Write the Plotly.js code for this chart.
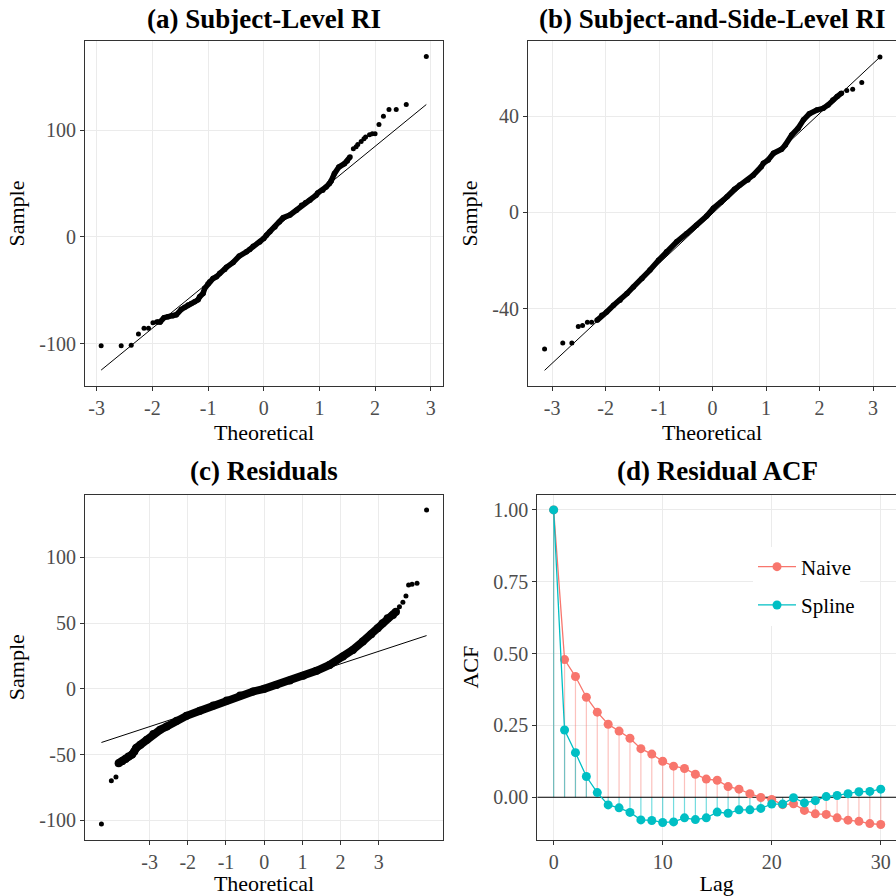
<!DOCTYPE html>
<html><head><meta charset="utf-8">
<script src="https://cdn.plot.ly/plotly-3.0.1.min.js"></script>
<style>html,body{margin:0;padding:0;background:#fff}#chart{width:896px;height:896px}</style>
</head><body><div id="chart"></div>
<script>
// ---------- Panel (a) Subject-Level RI ----------
const aBodyX = [-1.92,-1.86,-1.79,-1.72,-1.63,-1.57,-1.48,-1.42,-1.36,-1.30,-1.24,-1.18,-1.15,-1.09,-1.06,-1.00,-0.97,-0.91,-0.85,-0.79,-0.70,-0.67,-0.55,-0.44,-0.31,-0.25,-0.19,-0.07,0.00,0.05,0.11,0.20,0.28,0.35,0.47,0.59,0.68,0.75,0.83,0.94,0.97,1.06,1.12,1.18,1.21,1.27,1.35,1.45,1.50,1.55];
const aBodyY = [-79.7,-79.7,-75.7,-74.8,-74,-73,-67.9,-66,-63.8,-62.5,-60.7,-59,-56,-53,-48.2,-44,-42,-39,-37.4,-34,-30.5,-28.5,-24,-18,-14,-11.8,-8.75,-4.7,-1.5,1.6,4.7,9.3,14,18,20.5,25,29.6,32,34.3,39,41.1,43.75,46.7,50,52.3,59.3,65.4,68.6,71,74.8];
const aTailX = [-2.92,-2.56,-2.38,-2.25,-2.15,-2.07,-1.99,1.61,1.66,1.69,1.75,1.80,1.83,1.90,1.95,2.00,2.07,2.15,2.25,2.38,2.56,2.92];
const aTailY = [-102,-102,-101.5,-91,-85.6,-85.6,-80.4,82.6,84.5,86.6,89.4,92,93.5,95.7,96.5,96.6,105.3,113,119.3,119.3,124,168.9];
const aLine = {slope: 42.6, intercept: -0.4};
const aXTicks = [-3,-2,-1,0,1,2,3], aXLabels = ['-3','-2','-1','0','1','2','3'];
const aYTicks = [-100,0,100], aYLabels = ['-100','0','100'];

// ---------- Panel (b) Subject-and-Side-Level RI ----------
const bBodyX = [-2.16,-2.07,-1.98,-1.85,-1.73,-1.60,-1.48,-1.32,-1.17,-1.01,-0.86,-0.67,-0.48,-0.30,-0.11,0.015,0.16,0.27,0.41,0.51,0.66,0.76,0.91,0.95,1.04,1.14,1.29,1.36,1.48,1.60,1.70,1.81,1.95,2.07,2.16,2.25,2.33,2.41];
const bBodyY = [-44.9,-42.8,-41.4,-38.6,-36.5,-33.75,-31,-27.5,-24,-19.9,-16.4,-12.25,-8.75,-5.3,-1.5,1.7,4.2,6.5,9.6,11.4,13.5,15.5,19,20.4,21.8,24.6,26.25,28,32.2,35,38.5,41,42.6,43.3,44.7,46.8,48.2,49.6];
const bTailX = [-3.14,-2.80,-2.63,-2.51,-2.43,-2.34,-2.26,2.51,2.62,2.79,3.13];
const bTailY = [-56.8,-54.3,-54.3,-47.4,-47,-45.7,-45.7,50.7,51.25,54,64.6];
const bLine = {slope: 20.78, intercept: -0.44};
const bXTicks = [-3,-2,-1,0,1,2,3], bXLabels = ['-3','-2','-1','0','1','2','3'];
const bYTicks = [-40,0,40], bYLabels = ['-40','0','40'];

// ---------- Panel (c) Residuals ----------
const cBodyX = [-3.81,-3.72,-3.63,-3.55,-3.46,-3.40,-3.35,-3.24,-3.07,-2.90,-2.72,-2.55,-2.29,-2.03,-1.68,-1.33,-0.98,-0.63,-0.29,0,0.32,0.67,1.02,1.37,1.71,2.06,2.32,2.58,2.80,2.97,3.10,3.23,3.37,3.45];
const cBodyY = [-56.5,-55,-53.4,-51.4,-50,-47.6,-45,-42.5,-38.7,-34.4,-31.1,-28.6,-24.3,-20.5,-16.7,-12.7,-8.9,-5.1,-2,0,3,6.3,9.9,13.7,18.2,24.6,29.6,36,41.5,46,49.9,53.7,56.2,58.7];
const cTailX = [-4.26,-4.00,-3.88,3.54,3.63,3.71,3.78,3.87,4.00,4.25];
const cTailY = [-102.8,-69.9,-67,62.5,65.8,70.6,79,79.5,80.3,136];
const cLine = {slope: 9.55, intercept: -0.1};
const cXTicks = [-3,-2,-1,0,1,2,3], cXLabels = ['-3','-2','-1','0','1','2','3'];
const cYTicks = [-100,-50,0,50,100], cYLabels = ['-100','-50','0','50','100'];

// ---------- Panel (d) Residual ACF ----------
const lags = [0,1,2,3,4,5,6,7,8,9,10,11,12,13,14,15,16,17,18,19,20,21,22,23,24,25,26,27,28,29,30];
const acfNaive = [1.0,0.479,0.42,0.348,0.296,0.254,0.230,0.205,0.169,0.150,0.125,0.108,0.100,0.080,0.063,0.059,0.037,0.028,0.012,-0.001,-0.008,-0.026,-0.023,-0.046,-0.058,-0.060,-0.072,-0.080,-0.084,-0.092,-0.095];
const acfSpline = [1.0,0.234,0.155,0.072,0.016,-0.027,-0.037,-0.053,-0.079,-0.081,-0.088,-0.086,-0.072,-0.078,-0.072,-0.052,-0.056,-0.044,-0.044,-0.039,-0.024,-0.024,-0.002,-0.020,-0.012,0.002,0.006,0.012,0.019,0.020,0.028];
const dXTicks = [0,10,20,30], dXLabels = ['0','10','20','30'];
const dYTicks = [0,0.25,0.5,0.75,1.0], dYLabels = ['0.00','0.25','0.50','0.75','1.00'];
const seriesNames = ['Naive','Spline'];
const panelTitles = ['(a) Subject-Level RI','(b) Subject-and-Side-Level RI','(c) Residuals','(d) Residual ACF'];
const zeroLevel = 0;

// ---------- build ----------
const F = 'Liberation Serif, Times New Roman, serif';
const RED = '#F8766D', TEAL = '#00BFC4';
const dXRange = [-1.5, 31.4];

function qqTraces(bx, by, tx, ty, line, xa, ya, w) {
  const allX = bx.concat(tx);
  const x0 = Math.min(...allX), x1 = Math.max(...allX);
  return [
    {x: bx, y: by, xaxis: xa, yaxis: ya, type: 'scatter', mode: 'lines+markers',
     line: {color: '#000', width: w}, marker: {color: '#000', size: w}, showlegend: false, hoverinfo: 'skip'},
    {x: tx, y: ty, xaxis: xa, yaxis: ya, type: 'scatter', mode: 'markers',
     marker: {color: '#000', size: 5}, showlegend: false, hoverinfo: 'skip'},
    {x: [x0, x1], y: [line.intercept + line.slope * x0, line.intercept + line.slope * x1],
     xaxis: xa, yaxis: ya, type: 'scatter', mode: 'lines', line: {color: '#000', width: 1},
     showlegend: false, hoverinfo: 'skip'}
  ];
}

function segs(vals) {
  const x = [], y = [];
  lags.forEach((l, i) => { x.push(l, l, null); y.push(zeroLevel, vals[i], null); });
  return {x, y};
}
const sN = segs(acfNaive), sS = segs(acfSpline);

const traces = [].concat(
  qqTraces(aBodyX, aBodyY, aTailX, aTailY, aLine, 'x', 'y', 5.5),
  qqTraces(bBodyX, bBodyY, bTailX, bTailY, bLine, 'x2', 'y2', 5.5),
  qqTraces(cBodyX, cBodyY, cTailX, cTailY, cLine, 'x3', 'y3', 8),
  [
    {x: sN.x, y: sN.y, xaxis: 'x4', yaxis: 'y4', type: 'scatter', mode: 'lines',
     line: {color: 'rgba(248,118,109,0.45)', width: 1.2}, showlegend: false, hoverinfo: 'skip'},
    {x: sS.x, y: sS.y, xaxis: 'x4', yaxis: 'y4', type: 'scatter', mode: 'lines',
     line: {color: 'rgba(0,191,196,0.55)', width: 1.2}, showlegend: false, hoverinfo: 'skip'},
    {x: dXRange, y: [zeroLevel, zeroLevel], xaxis: 'x4', yaxis: 'y4', type: 'scatter', mode: 'lines',
     line: {color: '#000', width: 1.1}, showlegend: false, hoverinfo: 'skip'},
    {x: lags, y: acfNaive, xaxis: 'x4', yaxis: 'y4', type: 'scatter', mode: 'lines+markers',
     name: seriesNames[0], legendgroup: 'n', line: {color: RED, width: 1.3}, marker: {color: RED, size: 9}},
    {x: lags, y: acfSpline, xaxis: 'x4', yaxis: 'y4', type: 'scatter', mode: 'lines+markers',
     name: seriesNames[1], legendgroup: 's', line: {color: TEAL, width: 1.3}, marker: {color: TEAL, size: 9}}
  ]
);

function ax(extra) {
  return Object.assign({
    showgrid: true, gridcolor: '#EBEBEB', gridwidth: 1, zeroline: false,
    showline: true, linecolor: '#333333', linewidth: 1, mirror: true,
    ticks: 'outside', ticklen: 4, tickcolor: '#333333', tickwidth: 1,
    tickfont: {family: F, size: 20, color: '#4D4D4D'}, tickmode: 'array',
    automargin: false, fixedrange: true
  }, extra);
}
function xt(t) { return {text: t, font: {family: F, size: 22, color: '#000'}, standoff: 6}; }
function yt(t) { return {text: t, font: {family: F, size: 22, color: '#000'}, standoff: 8}; }

const W = 896;
const layout = {
  width: 896, height: 896,
  margin: {l: 0, r: 0, t: 0, b: 0},
  paper_bgcolor: '#fff', plot_bgcolor: '#fff',
  font: {family: F, color: '#000'},
  xaxis:  ax({domain: [85/W, 443/W], range: [-3.21, 3.22], anchor: 'y', tickvals: aXTicks, ticktext: aXLabels, title: xt('Theoretical')}),
  yaxis:  ax({domain: [1-386/W, 1-41/W], range: [-139.7, 183.5], anchor: 'x', tickvals: aYTicks, ticktext: aYLabels, title: yt('Sample')}),
  xaxis2: ax({domain: [528/W, 1], range: [-3.45, 3.43], anchor: 'y2', tickvals: bXTicks, ticktext: bXLabels, title: xt('Theoretical')}),
  yaxis2: ax({domain: [1-386/W, 1-41/W], range: [-72.2, 71.3], anchor: 'x2', tickvals: bYTicks, ticktext: bYLabels, title: yt('Sample')}),
  xaxis3: ax({domain: [85/W, 443/W], range: [-4.69, 4.68], anchor: 'y3', tickvals: cXTicks, ticktext: cXLabels, title: xt('Theoretical')}),
  yaxis3: ax({domain: [1-839.7/W, 1-494.7/W], range: [-114.7, 147.6], anchor: 'x3', tickvals: cYTicks, ticktext: cYLabels, title: yt('Sample')}),
  xaxis4: ax({domain: [537.3/W, 1], range: dXRange, anchor: 'y4', tickvals: dXTicks, ticktext: dXLabels, title: xt('Lag')}),
  yaxis4: ax({domain: [1-839.7/W, 1-494.7/W], range: [-0.148, 1.053], anchor: 'x4', tickvals: dYTicks, ticktext: dYLabels, title: yt('ACF')}),
  annotations: [
    {text: '<b>' + panelTitles[0] + '</b>', xref: 'paper', yref: 'paper', x: 264/W, y: 1-19/W, showarrow: false, xanchor: 'center', yanchor: 'middle', font: {family: F, size: 27, color: '#000'}},
    {text: '<b>' + panelTitles[1] + '</b>', xref: 'paper', yref: 'paper', x: 712.5/W, y: 1-19/W, showarrow: false, xanchor: 'center', yanchor: 'middle', font: {family: F, size: 27, color: '#000'}},
    {text: '<b>' + panelTitles[2] + '</b>', xref: 'paper', yref: 'paper', x: 264/W, y: 1-471/W, showarrow: false, xanchor: 'center', yanchor: 'middle', font: {family: F, size: 27, color: '#000'}},
    {text: '<b>' + panelTitles[3] + '</b>', xref: 'paper', yref: 'paper', x: 717/W, y: 1-471/W, showarrow: false, xanchor: 'center', yanchor: 'middle', font: {family: F, size: 27, color: '#000'}}
  ],
  legend: {x: 753/W, xanchor: 'left', y: 1-586/W, yanchor: 'middle', bgcolor: '#fff', borderwidth: 0,
           font: {family: F, size: 21, color: '#000'}, itemwidth: 38, tracegroupgap: 8},
  showlegend: true
};

Plotly.newPlot('chart', traces, layout, {staticPlot: true, displayModeBar: false});
</script></body></html>
